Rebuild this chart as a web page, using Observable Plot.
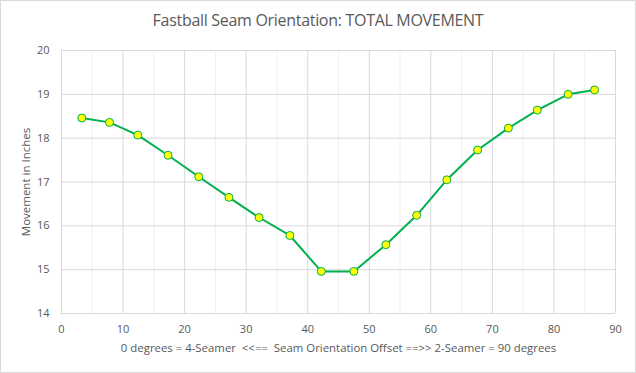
<!DOCTYPE html>
<html><head><meta charset="utf-8">
<script src="https://cdn.jsdelivr.net/npm/d3@7"></script>
<script src="https://cdn.jsdelivr.net/npm/@observablehq/plot@0.6"></script>
<style>
body{margin:0;background:#fff;}
#wrap{position:relative;width:636px;height:373px;font-family:"Open Sans",sans-serif;color:#595959;overflow:hidden;}
#title{position:absolute;left:0;top:0;width:636px;height:40px;line-height:40px;text-align:center;font-size:16px;color:#595959;letter-spacing:-0.3px;}
#chart{position:absolute;left:0;top:40px;}
#border{position:absolute;left:0;top:0;width:634px;height:371px;border:1px solid #d9d9d9;pointer-events:none;}
</style></head>
<body>
<div id="wrap">
<div id="title">Fastball Seam Orientation: TOTAL MOVEMENT</div>
<div id="chart"></div>
<div id="border"></div>
</div>
<script>
const angles = [3.3, 7.8, 12.4, 17.3, 22.3, 27.2, 32.1, 37.1, 42.2, 47.5, 52.7, 57.7, 62.6, 67.6, 72.6, 77.3, 82.3, 86.6];
const movement = [18.46, 18.36, 18.07, 17.61, 17.12, 16.65, 16.19, 15.78, 14.96, 14.96, 15.57, 16.24, 17.05, 17.73, 18.23, 18.64, 19.0, 19.1];
const xTicks = [0, 10, 20, 30, 40, 50, 60, 70, 80, 90];
const xMinorTicks = [5, 15, 25, 35, 45, 55, 65, 75, 85];
const yTicks = [14, 15, 16, 17, 18, 19, 20];
const xLabel = "0 degrees = 4-Seamer  <<==  Seam Orientation Offset ==>> 2-Seamer = 90 degrees";
const yLabel = "Movement in Inches";

const data = angles.map((a, i) => ({angle: a, value: movement[i]}));

const plot = Plot.plot({
  width: 636,
  height: 333,
  marginTop: 10,
  marginBottom: 60,
  marginLeft: 61,
  marginRight: 21,
  style: {fontFamily: "'Open Sans', sans-serif", fontSize: "11px", color: "#595959", background: "transparent"},
  x: {domain: [0, 90], ticks: xTicks, label: null},
  y: {domain: [14, 20], ticks: yTicks, label: null},
  marks: [
    Plot.ruleX(xMinorTicks, {stroke: "#efefef", strokeWidth: 1}),
    Plot.ruleX(xTicks, {stroke: "#d9d9d9", strokeWidth: 1}),
    Plot.ruleY(yTicks, {stroke: "#d9d9d9", strokeWidth: 1}),
    Plot.axisX({ticks: xTicks, tickSize: 0, tickPadding: 12, tickFormat: d3.format("d"), label: null, fill: "#595959", fontSize: 11}),
    Plot.axisX({ticks: [], tickSize: 0, label: xLabel, labelAnchor: "center", labelArrow: "none", labelOffset: 38, fill: "#595959", fontSize: 11.4}),
    Plot.axisY({ticks: yTicks, tickSize: 0, tickPadding: 12, tickFormat: d3.format("d"), label: null, fill: "#595959", fontSize: 11}),
    Plot.axisY({ticks: [], tickSize: 0, label: yLabel, labelAnchor: "center", labelArrow: "none", labelOffset: 40, fill: "#595959", fontSize: 11.5}),
    Plot.line(data, {x: "angle", y: "value", stroke: "#00B050", strokeWidth: 2}),
    Plot.dot(data, {x: "angle", y: "value", r: 4, fill: "#FFFF00", stroke: "#00B050", strokeWidth: 1})
  ]
});
document.getElementById("chart").appendChild(plot);
</script>
</body></html>
